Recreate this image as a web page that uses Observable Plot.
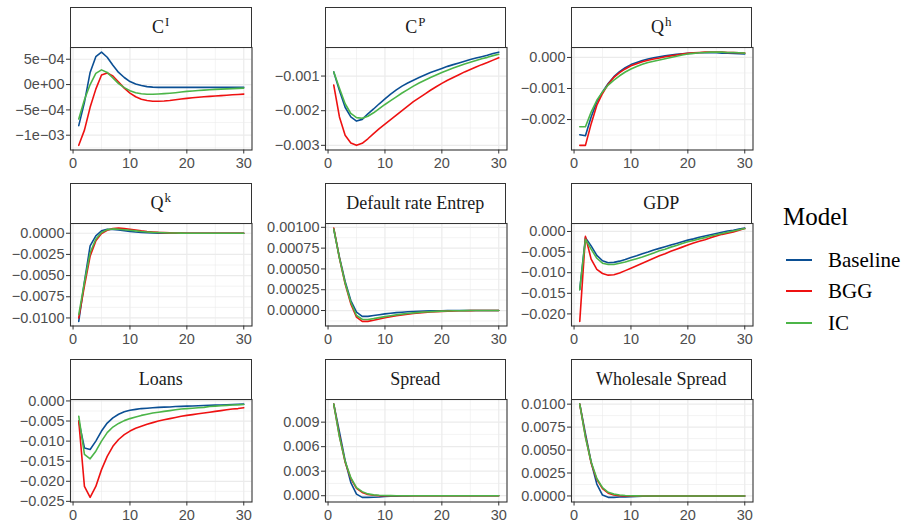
<!DOCTYPE html>
<html><head><meta charset="utf-8">
<script src="https://cdn.jsdelivr.net/npm/d3@7"></script>
<script src="https://cdn.jsdelivr.net/npm/@observablehq/plot@0.6"></script>
<style>
body{margin:0;background:#fff;}
#fig{position:relative;width:904px;height:524px;overflow:hidden;background:#fff;}
.strip{position:absolute;box-sizing:border-box;border:1px solid #333;background:#fff;display:flex;align-items:center;justify-content:center;font-family:"Liberation Serif","Times New Roman",serif;font-size:18px;color:#1a1a1a;z-index:2;white-space:nowrap}
.strip sup{font-size:0.72em;vertical-align:0.55em;line-height:0;margin-left:1px}
.panel{position:absolute;z-index:1}
.leg{position:absolute;font-family:"Liberation Serif","Times New Roman",serif;color:#000;white-space:nowrap}
.key{position:absolute;height:2px}
</style>
</head><body>
<div id="fig"></div>
<script>
// ---------------- data ----------------
const periods = [1,2,3,4,5,6,7,8,9,10,11,12,13,14,15,16,17,18,19,20,21,22,23,24,25,26,27,28,29,30];
const models = ["Baseline", "BGG", "IC"];
const modelColors = ["#0B4F94", "#EE1111", "#4CB548"];

// C^I
const ciBaseline = [-8.1e-4,-3.5e-4,2.4e-4,5.5e-4,6.4e-4,5.4e-4,3.8e-4,2.4e-4,1.4e-4,6e-5,1e-5,-2e-5,-4e-5,-5e-5,-5.5e-5,-5.5e-5,-5.5e-5,-5.5e-5,-5.5e-5,-5.5e-5,-5.5e-5,-5.5e-5,-5.5e-5,-5.5e-5,-5.5e-5,-5.5e-5,-5.5e-5,-5.5e-5,-5.5e-5,-5.5e-5];
const ciBGG = [-1.2e-3,-9.0e-4,-4.5e-4,-9e-5,1.9e-4,2.3e-4,1.7e-4,5e-5,-7e-5,-1.7e-4,-2.4e-4,-2.9e-4,-3.15e-4,-3.3e-4,-3.3e-4,-3.25e-4,-3.15e-4,-3.0e-4,-2.85e-4,-2.72e-4,-2.6e-4,-2.5e-4,-2.42e-4,-2.34e-4,-2.26e-4,-2.18e-4,-2.1e-4,-2.02e-4,-1.95e-4,-1.88e-4];
const ciIC = [-6.8e-4,-3.0e-4,0,2.2e-4,2.9e-4,2.4e-4,1.3e-4,2e-5,-6e-5,-1.2e-4,-1.6e-4,-1.8e-4,-1.9e-4,-1.92e-4,-1.85e-4,-1.78e-4,-1.7e-4,-1.6e-4,-1.48e-4,-1.35e-4,-1.26e-4,-1.18e-4,-1.1e-4,-1.02e-4,-9.5e-5,-9e-5,-8.5e-5,-8e-5,-7.5e-5,-7e-5];

// C^P
const cpBaseline = [-0.00088,-0.00142,-0.0019,-0.00218,-0.0023,-0.00225,-0.00209,-0.00195,-0.0018,-0.00166,-0.00152,-0.0014,-0.00129,-0.0012,-0.00112,-0.00104,-0.00097,-0.0009,-0.00084,-0.00078,-0.00072,-0.00067,-0.00062,-0.00057,-0.00052,-0.00048,-0.00044,-0.0004,-0.00035,-0.00031];
const cpBGG = [-0.00126,-0.00218,-0.00271,-0.00293,-0.003,-0.00294,-0.00281,-0.00266,-0.00252,-0.00239,-0.00226,-0.00213,-0.002,-0.00187,-0.00174,-0.00163,-0.00152,-0.00141,-0.00131,-0.00121,-0.00112,-0.00104,-0.00096,-0.00088,-0.00081,-0.00074,-0.00067,-0.00061,-0.00054,-0.00047];
const cpIC = [-0.00088,-0.00135,-0.0018,-0.00208,-0.0022,-0.00222,-0.00216,-0.00206,-0.00194,-0.00182,-0.00171,-0.0016,-0.00149,-0.00139,-0.00129,-0.0012,-0.00112,-0.00104,-0.00097,-0.0009,-0.00083,-0.00077,-0.00071,-0.00065,-0.0006,-0.00055,-0.0005,-0.00046,-0.00041,-0.00037];

// Q^h
const qhBaseline = [-0.00249,-0.00252,-0.00192,-0.00143,-0.00111,-0.00084,-0.00062,-0.00046,-0.00033,-0.00023,-0.00016,-0.0001,-5e-5,-1e-5,2e-5,5e-5,8e-5,0.0001,0.00012,0.00013,0.00014,0.00015,0.00015,0.00015,0.00015,0.00014,0.00014,0.00013,0.00012,0.00011];
const qhBGG = [-0.00283,-0.00283,-0.00214,-0.00154,-0.00116,-0.00086,-0.00064,-0.00049,-0.00037,-0.00027,-0.0002,-0.00014,-9e-5,-5e-5,-2e-5,2e-5,5e-5,8e-5,0.00011,0.00013,0.00015,0.00016,0.00017,0.00017,0.00017,0.00017,0.00016,0.00016,0.00015,0.00014];
const qhIC = [-0.00223,-0.00223,-0.00176,-0.00138,-0.00111,-0.00089,-0.00073,-0.00059,-0.00047,-0.00037,-0.00029,-0.00022,-0.00016,-0.00012,-8e-5,-4e-5,0,4e-5,8e-5,0.00011,0.00013,0.00015,0.00016,0.00017,0.00017,0.00017,0.00016,0.00016,0.00015,0.00014];

// Q^k
const qkBaseline = [-0.0104,-0.0057,-0.0015,-0.0003,0.00028,0.00047,0.00045,0.00038,0.0003,0.00022,0.00015,0.0001,6e-5,3e-5,1e-5,0,0,0,0,0,0,0,0,0,0,0,0,0,0,0];
const qkBGG = [-0.0100,-0.0062,-0.0027,-0.0009,-4e-5,0.00036,0.00055,0.0006,0.00055,0.00047,0.00038,0.00028,0.0002,0.00015,0.0001,7e-5,4e-5,2e-5,1e-5,0,0,0,0,0,0,0,0,0,0,0];
const qkIC = [-0.0096,-0.0058,-0.0023,-0.0007,8e-5,0.00043,0.00051,0.00048,0.00042,0.00036,0.00028,0.0002,0.00015,0.0001,8e-5,5e-5,3e-5,2e-5,1e-5,0,0,0,0,0,0,0,0,0,0,0];

// Default rate Entrep
const drBaseline = [0.00098,0.00064,0.00035,0.00012,-2e-5,-7e-5,-7e-5,-6e-5,-5e-5,-4e-5,-3.2e-5,-2.5e-5,-2e-5,-1.5e-5,-1.1e-5,-8e-6,-6e-6,-4e-6,-3e-6,-2e-6,-1e-6,0,0,0,0,0,0,0,0,0];
const drBGG = [0.00099,0.00063,0.00032,8e-5,-8e-5,-1.3e-4,-1.3e-4,-1.17e-4,-1.02e-4,-8.7e-5,-7.4e-5,-6.2e-5,-5.2e-5,-4.3e-5,-3.5e-5,-2.8e-5,-2.2e-5,-1.7e-5,-1.3e-5,-1e-5,-7e-6,-5e-6,-3e-6,-2e-6,-1e-6,0,0,0,0,0];
const drIC = [0.00098,0.00063,0.00033,0.0001,-6e-5,-1.05e-4,-1.07e-4,-9.7e-5,-8.5e-5,-7.3e-5,-6.2e-5,-5.2e-5,-4.3e-5,-3.5e-5,-2.8e-5,-2.2e-5,-1.7e-5,-1.3e-5,-1e-5,-7e-6,-5e-6,-3e-6,-2e-6,-1e-6,0,0,0,0,0,0];

// GDP
const gdpBaseline = [-0.0141,-0.0015,-0.0035,-0.0058,-0.0071,-0.0076,-0.0075,-0.0072,-0.0068,-0.0063,-0.0059,-0.0054,-0.005,-0.0045,-0.0041,-0.0037,-0.0033,-0.0029,-0.0025,-0.0021,-0.0018,-0.0014,-0.0011,-0.0008,-0.0005,-0.0002,0.0001,0.0003,0.0006,0.0008];
const gdpBGG = [-0.0218,-0.0012,-0.0067,-0.0092,-0.0102,-0.0106,-0.0105,-0.0101,-0.0095,-0.0089,-0.0083,-0.0077,-0.0071,-0.0065,-0.0059,-0.0054,-0.0048,-0.0043,-0.0038,-0.0033,-0.0028,-0.0024,-0.002,-0.0015,-0.0011,-0.0007,-0.0004,-0.0001,0.0003,0.0007];
const gdpIC = [-0.0141,-0.0019,-0.0043,-0.0065,-0.0077,-0.008,-0.008,-0.0077,-0.0074,-0.007,-0.0066,-0.0062,-0.0057,-0.0052,-0.0047,-0.0043,-0.0038,-0.0034,-0.0029,-0.0025,-0.0022,-0.0018,-0.0015,-0.0011,-0.0008,-0.0005,-0.0002,0.0001,0.0004,0.0007];

// Loans
const loansBaseline = [-0.005,-0.0117,-0.0121,-0.01,-0.0075,-0.0055,-0.0042,-0.0033,-0.0027,-0.0023,-0.0021,-0.0019,-0.0018,-0.0017,-0.0016,-0.00155,-0.0015,-0.0014,-0.00135,-0.0013,-0.00125,-0.0012,-0.00115,-0.0011,-0.00105,-0.001,-0.00095,-0.0009,-0.00085,-0.0008];
const loansBGG = [-0.005,-0.0213,-0.024,-0.0213,-0.0171,-0.0138,-0.0113,-0.0096,-0.0084,-0.0075,-0.0068,-0.0063,-0.0058,-0.0054,-0.005,-0.0047,-0.0044,-0.0041,-0.0038,-0.0036,-0.0034,-0.0032,-0.003,-0.0028,-0.0026,-0.0024,-0.0022,-0.002,-0.0019,-0.0017];
const loansIC = [-0.0038,-0.0133,-0.0144,-0.0125,-0.01,-0.0079,-0.0065,-0.0056,-0.0049,-0.0044,-0.004,-0.0036,-0.0033,-0.003,-0.0028,-0.0026,-0.0024,-0.0022,-0.002,-0.0019,-0.0018,-0.0017,-0.0016,-0.0014,-0.0013,-0.0012,-0.0011,-0.001,-0.00095,-0.0009];

// Spread
const spBaseline = [0.0112,0.0078,0.0043,0.0016,0.0002,-0.0002,-0.0002,-0.00018,-0.00015,-0.0001,-7e-5,-5e-5,-3e-5,-2e-5,-1e-5,0,0,0,0,0,0,0,0,0,0,0,0,0,0,0];
const spBGG = [0.0112,0.0073,0.0041,0.0021,0.0009,0.0004,0.00015,5e-5,0,-1e-5,-1e-5,0,0,0,0,0,0,0,0,0,0,0,0,0,0,0,0,0,0,0];
const spIC = [0.0112,0.0072,0.0042,0.0022,0.001,0.0005,0.00022,0.0001,5e-5,2e-5,1e-5,0,0,0,0,0,0,0,0,0,0,0,0,0,0,0,0,0,0,0];

// Wholesale Spread
const wsBaseline = [0.01,0.0068,0.0037,0.0013,0.0001,-0.00015,-0.00015,-0.00012,-0.0001,-7e-5,-5e-5,-3e-5,-2e-5,-1e-5,0,0,0,0,0,0,0,0,0,0,0,0,0,0,0,0];
const wsBGG = [0.01,0.0065,0.0036,0.0018,0.0008,0.0003,0.0001,3e-5,0,0,0,0,0,0,0,0,0,0,0,0,0,0,0,0,0,0,0,0,0,0];
const wsIC = [0.01,0.0064,0.0037,0.0019,0.0009,0.0004,0.0002,0.0001,5e-5,2e-5,1e-5,0,0,0,0,0,0,0,0,0,0,0,0,0,0,0,0,0,0,0];

// panel titles: [base, superscript]
const panelTitles = [["C","I"],["C","P"],["Q","h"],["Q","k"],["Default rate Entrep",""],["GDP",""],["Loans",""],["Spread",""],["Wholesale Spread",""]];

// tick values and labels
const xTicks = [0,10,20,30];
const xTickLabels = ["0","10","20","30"];
const yTicksCI = [-1e-3,-5e-4,0,5e-4];
const yLabelsCI = ["\u22121e\u221203","\u22125e\u221204","0e+00","5e\u221204"];
const yTicksCP = [-0.003,-0.002,-0.001];
const yLabelsCP = ["\u22120.003","\u22120.002","\u22120.001"];
const yTicksQh = [-0.002,-0.001,0];
const yLabelsQh = ["\u22120.002","\u22120.001","0.000"];
const yTicksQk = [-0.01,-0.0075,-0.005,-0.0025,0];
const yLabelsQk = ["\u22120.0100","\u22120.0075","\u22120.0050","\u22120.0025","0.0000"];
const yTicksDR = [0,0.00025,0.0005,0.00075,0.001];
const yLabelsDR = ["0.00000","0.00025","0.00050","0.00075","0.00100"];
const yTicksGDP = [-0.02,-0.015,-0.01,-0.005,0];
const yLabelsGDP = ["\u22120.020","\u22120.015","\u22120.010","\u22120.005","0.000"];
const yTicksLoans = [-0.025,-0.02,-0.015,-0.01,-0.005,0];
const yLabelsLoans = ["\u22120.025","\u22120.020","\u22120.015","\u22120.010","\u22120.005","0.000"];
const yTicksSp = [0,0.003,0.006,0.009];
const yLabelsSp = ["0.000","0.003","0.006","0.009"];
const yTicksWS = [0,0.0025,0.005,0.0075,0.01];
const yLabelsWS = ["0.0000","0.0025","0.0050","0.0075","0.0100"];

// --------------- assembly ---------------
const panelSeries = [
  [ciBaseline, ciBGG, ciIC],
  [cpBaseline, cpBGG, cpIC],
  [qhBaseline, qhBGG, qhIC],
  [qkBaseline, qkBGG, qkIC],
  [drBaseline, drBGG, drIC],
  [gdpBaseline, gdpBGG, gdpIC],
  [loansBaseline, loansBGG, loansIC],
  [spBaseline, spBGG, spIC],
  [wsBaseline, wsBGG, wsIC]
];
const panelTicks = [
  [yTicksCI, yLabelsCI],[yTicksCP, yLabelsCP],[yTicksQh, yLabelsQh],
  [yTicksQk, yLabelsQk],[yTicksDR, yLabelsDR],[yTicksGDP, yLabelsGDP],
  [yTicksLoans, yLabelsLoans],[yTicksSp, yLabelsSp],[yTicksWS, yLabelsWS]
];

const fig = document.getElementById("fig");
const colLeft = [70, 324.5, 570.5];
const stripTop = [7, 183, 358.5];
const panelW = 181.5, stripH = 40, panelH = 102.5;
const mL = 72, mR = 4, mT = 1, mB = 26;
const grid = "#EBEBEB";

function minorOf(ticks, lo, hi) {
  const step = ticks[1] - ticks[0];
  const out = [];
  for (let k = -1; k < ticks.length; k++) {
    const v = (k < 0 ? ticks[0] - step : ticks[k]) + step / 2;
    if (v > lo && v < hi) out.push(v);
  }
  return out;
}

panelSeries.forEach((series, p) => {
  const r = Math.floor(p / 3), c = p % 3;
  const data = models.flatMap((m, k) => series[k].map((v, i) => ({t: periods[i], v, model: m})));
  const [lo, hi] = d3.extent(data, d => d.v);
  const R = hi - lo;
  const yDom = [lo - 0.05 * R, hi + 0.05 * R];
  const xDom = [1 - 0.05 * 29, 30 + 0.05 * 29];
  const [yt, yl] = panelTicks[p];
  const labelMap = new Map(yt.map((t, i) => [t, yl[i]]));
  const xLabelMap = new Map(xTicks.map((t, i) => [t, xTickLabels[i]]));
  const xMinor = minorOf(xTicks, xDom[0], xDom[1]);
  const yMinor = minorOf(yt, yDom[0], yDom[1]);

  const chart = Plot.plot({
    width: mL + panelW + mR,
    height: mT + panelH + mB,
    marginLeft: mL, marginRight: mR, marginTop: mT, marginBottom: mB,
    style: {fontFamily: "'Liberation Sans', Arial, sans-serif", fontSize: "14.5px", background: "transparent", overflow: "visible"},
    x: {domain: xDom},
    y: {domain: yDom},
    color: {domain: models, range: modelColors},
    marks: [
      Plot.ruleX(xMinor, {stroke: grid, strokeWidth: 0.6}),
      Plot.ruleY(yMinor, {stroke: grid, strokeWidth: 0.6}),
      Plot.ruleX(xTicks, {stroke: grid, strokeWidth: 1.2}),
      Plot.ruleY(yt, {stroke: grid, strokeWidth: 1.2}),
      Plot.line(data, {x: "t", y: "v", z: "model", stroke: "model", strokeWidth: 1.6}),
      Plot.frame({stroke: "#333", strokeWidth: 1.1}),
      Plot.axisX(xTicks, {tickSize: 4, tickPadding: 4, stroke: "#333", fill: "#4D4D4D", label: null, tickFormat: d => xLabelMap.get(d)}),
      Plot.axisY(yt, {tickSize: 4, tickPadding: 2, stroke: "#333", fill: "#4D4D4D", label: null, tickFormat: d => labelMap.get(d)})
    ]
  });
  const holder = document.createElement("div");
  holder.className = "panel";
  holder.style.left = (colLeft[c] - mL) + "px";
  holder.style.top = (stripTop[r] + stripH - mT) + "px";
  holder.appendChild(chart);
  fig.appendChild(holder);

  const strip = document.createElement("div");
  strip.className = "strip";
  strip.style.left = colLeft[c] + "px";
  strip.style.top = stripTop[r] + "px";
  strip.style.width = panelW + "px";
  strip.style.height = (stripH + 1) + "px";
  const inner = document.createElement("span");
  const [base, sup] = panelTitles[p];
  inner.appendChild(document.createTextNode(base));
  if (sup) {
    const s = document.createElement("sup");
    s.textContent = sup;
    inner.appendChild(s);
  }
  strip.appendChild(inner);
  fig.appendChild(strip);
});

// legend
const title = document.createElement("div");
title.className = "leg";
title.style.left = "783px"; title.style.top = "203px"; title.style.fontSize = "25px";
title.textContent = "Model";
fig.appendChild(title);
const keyY = [260, 291, 323];
models.forEach((m, k) => {
  const line = document.createElement("div");
  line.className = "key";
  line.style.left = "786px"; line.style.width = "26px";
  line.style.top = (keyY[k] - 1) + "px";
  line.style.background = modelColors[k];
  fig.appendChild(line);
  const lab = document.createElement("div");
  lab.className = "leg";
  lab.style.left = "828px"; lab.style.top = (keyY[k] - 12) + "px"; lab.style.fontSize = "21px";
  lab.style.lineHeight = "24px";
  lab.textContent = m;
  fig.appendChild(lab);
});
</script>
</body></html>
